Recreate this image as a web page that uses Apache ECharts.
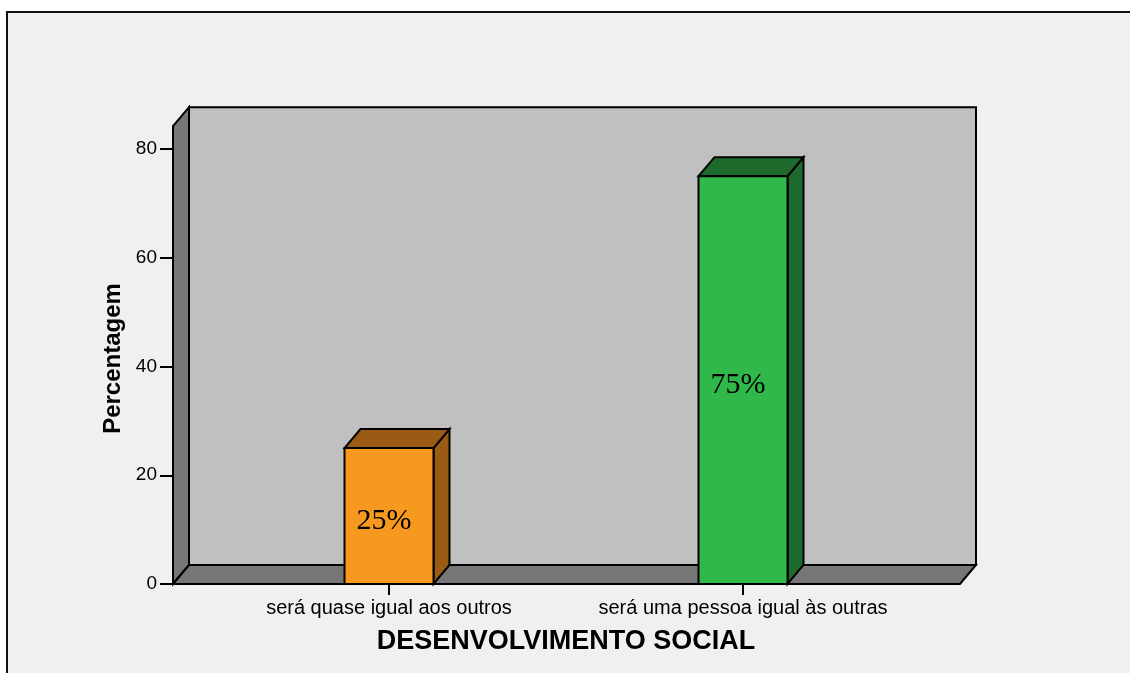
<!DOCTYPE html>
<html>
<head>
<meta charset="utf-8">
<script src="https://cdn.jsdelivr.net/npm/echarts@6/dist/echarts.min.js"></script>
<style>
  html, body { margin: 0; padding: 0; background: #ffffff; }
  #chart { width: 1130px; height: 673px; }
</style>
</head>
<body>
<div id="chart"></div>
<script>
// Chart data
const categories = ['será quase igual aos outros', 'será uma pessoa igual às outras'];
const percentages = [25, 75];
const yTicks = [0, 20, 40, 60, 80];

// Appearance
const frontColors = ['#f8991f', '#31b84b'];
const shadeColors = ['#9a5b15', '#1e6a2c'];
const DEPTH_X = 16, DEPTH_Y = -19;   // 3D depth offset in pixels
const WALL_TOP = 84.2;               // value at which the walls end
const WALL_EXT_L = 39, WALL_EXT_R = 40;
const EDGE = { stroke: '#000', lineWidth: 2, lineJoin: 'miter' };
const FONT = '"Liberation Sans", Arial, sans-serif';

function renderWalls(params, api) {
  const cs = params.coordSys;
  const x0 = cs.x - WALL_EXT_L, x1 = cs.x + cs.width + WALL_EXT_R;
  const yb = api.coord([0, 0])[1];
  const yt = api.coord([0, WALL_TOP])[1];
  const dx = DEPTH_X, dy = DEPTH_Y;
  return {
    type: 'group',
    children: [
      { type: 'polygon', shape: { points: [[x0 + dx, yt + dy], [x1 + dx, yt + dy], [x1 + dx, yb + dy], [x0 + dx, yb + dy]] },
        style: Object.assign({ fill: '#c0c0c0' }, EDGE) },
      { type: 'polygon', shape: { points: [[x0, yt], [x0 + dx, yt + dy], [x0 + dx, yb + dy], [x0, yb]] },
        style: Object.assign({ fill: '#767676' }, EDGE) },
      { type: 'polygon', shape: { points: [[x0, yb], [x0 + dx, yb + dy], [x1 + dx, yb + dy], [x1, yb]] },
        style: Object.assign({ fill: '#767676' }, EDGE) }
    ]
  };
}

function renderBar(params, api) {
  const i = api.value(0), v = api.value(1);
  const base = api.coord([i, 0]);
  const top = api.coord([i, v]);
  const w = api.size([1, 0])[0] * 0.2514;
  const xl = base[0] - w / 2, xr = base[0] + w / 2;
  const yb = base[1], yt = top[1];
  const dx = DEPTH_X, dy = DEPTH_Y;
  return {
    type: 'group',
    children: [
      { type: 'polygon', shape: { points: [[xr, yt], [xr + dx, yt + dy], [xr + dx, yb + dy], [xr, yb]] },
        style: Object.assign({ fill: shadeColors[i] }, EDGE) },
      { type: 'polygon', shape: { points: [[xl, yt], [xl + dx, yt + dy], [xr + dx, yt + dy], [xr, yt]] },
        style: Object.assign({ fill: shadeColors[i] }, EDGE) },
      { type: 'rect', shape: { x: xl, y: yt, width: w, height: yb - yt },
        style: Object.assign({ fill: frontColors[i] }, EDGE) },
      { type: 'text',
        style: { text: v + '%', x: base[0] - 5, y: (yt + yb) / 2 + 5, align: 'center', verticalAlign: 'middle',
                 fontSize: 30, fontFamily: '"Liberation Serif", "Times New Roman", serif', fill: '#000' } }
    ]
  };
}

const chart = echarts.init(document.getElementById('chart'), null, { renderer: 'canvas' });
chart.setOption({
  backgroundColor: '#ffffff',
  animation: false,
  graphic: [{
    type: 'rect', z: -10, silent: true,
    shape: { x: 7, y: 12, width: 1200, height: 700 },
    style: { fill: '#f0f0f0', stroke: '#111', lineWidth: 2 }
  }],
  grid: { left: 212, right: 210, top: 149, bottom: 89 },
  xAxis: {
    type: 'category',
    data: categories,
    axisLine: { show: false },
    axisTick: { show: true, alignWithLabel: true, interval: 0, length: 11, lineStyle: { color: '#000', width: 2 } },
    axisLabel: { interval: 0, color: '#000', fontSize: 20, fontFamily: FONT, margin: 14 },
    name: 'DESENVOLVIMENTO SOCIAL',
    nameLocation: 'middle',
    nameGap: 44,
    nameTextStyle: { color: '#000', fontSize: 27, fontWeight: 'bold', fontFamily: FONT }
  },
  yAxis: {
    type: 'value',
    min: yTicks[0],
    max: yTicks[yTicks.length - 1],
    interval: yTicks[1] - yTicks[0],
    offset: WALL_EXT_L,
    axisLine: { show: false },
    axisTick: { show: true, length: 13, lineStyle: { color: '#000', width: 2 } },
    axisLabel: { color: '#000', fontSize: 19, fontFamily: FONT, margin: 16 },
    splitLine: { show: false },
    name: 'Percentagem',
    nameLocation: 'middle',
    nameRotate: 90,
    nameGap: 40,
    nameTextStyle: { color: '#000', fontSize: 24, fontWeight: 'bold', fontFamily: FONT, padding: [0, 0, 0, 16] }
  },
  series: [
    { type: 'custom', renderItem: renderWalls, data: [[0, 0]], z: 1, silent: true },
    { type: 'custom', renderItem: renderBar, data: percentages.map((v, i) => [i, v]), z: 2 }
  ]
});
</script>
</body>
</html>
